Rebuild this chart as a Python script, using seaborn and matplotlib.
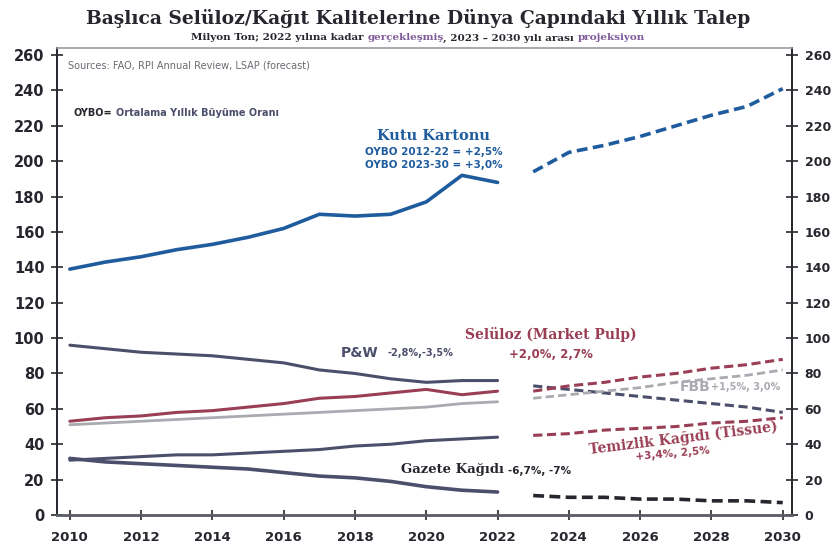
import matplotlib
matplotlib.use("Agg")
import matplotlib.pyplot as plt
import seaborn as sns
import pandas as pd

# ---------------- data ----------------
hist_years = [2010, 2011, 2012, 2013, 2014, 2015, 2016, 2017, 2018, 2019, 2020, 2021, 2022]
proj_years = [2023, 2024, 2025, 2026, 2027, 2028, 2029, 2030]

kutu_hist = [139, 143, 146, 150, 153, 157, 162, 170, 169, 170, 177, 192, 188]
kutu_proj = [194, 205, 209, 214, 220, 226, 231, 241]

pw_hist = [96, 94, 92, 91, 90, 88, 86, 82, 80, 77, 75, 76, 76]
pw_proj = [73, 71, 69, 67, 65, 63, 61, 58]

pulp_hist = [53, 55, 56, 58, 59, 61, 63, 66, 67, 69, 71, 68, 70]
pulp_proj = [70, 73, 75, 78, 80, 83, 85, 88]

fbb_hist = [51, 52, 53, 54, 55, 56, 57, 58, 59, 60, 61, 63, 64]
fbb_proj = [66, 68, 70, 72, 75, 77, 79, 82]

tissue_hist = [31, 32, 33, 34, 34, 35, 36, 37, 39, 40, 42, 43, 44]
tissue_proj = [45, 46, 48, 49, 50, 52, 53, 55]

gazete_hist = [32, 30, 29, 28, 27, 26, 24, 22, 21, 19, 16, 14, 13]
gazete_proj = [11, 10, 10, 9, 9, 8, 8, 7]

x_ticks = [2010, 2012, 2014, 2016, 2018, 2020, 2022, 2024, 2026, 2028, 2030]
y_ticks = [0, 20, 40, 60, 80, 100, 120, 140, 160, 180, 200, 220, 240, 260]

BLUE = "#1f5c9e"
SLATE = "#4c4f6b"
MAROON = "#9a3e55"
LGREY = "#a9abb1"
DARK = "#26262e"

sns.set_theme(style="white")
plt.rcParams["font.family"] = ["DejaVu Sans"]

fig = plt.figure(figsize=(8.36, 5.47), dpi=100)
ax = fig.add_axes([57 / 836, 1 - 515 / 547, (792 - 57) / 836, (515 - 48) / 547])

series = [
    (kutu_hist, kutu_proj, BLUE, BLUE, 2.6),
    (pw_hist, pw_proj, SLATE, SLATE, 2.2),
    (fbb_hist, fbb_proj, LGREY, LGREY, 2.0),
    (pulp_hist, pulp_proj, MAROON, MAROON, 2.2),
    (tissue_hist, tissue_proj, SLATE, MAROON, 2.2),
    (gazete_hist, gazete_proj, SLATE, DARK, 2.6),
]
for h, p, ch, cp, lw in series:
    sns.lineplot(x=hist_years, y=h, color=ch, lw=lw, ax=ax)
    sns.lineplot(x=proj_years, y=p, color=cp, lw=lw, ax=ax, linestyle=(0, (3, 1.5)))

ax.set_xlim(2009.64, 2030.26)
ax.set_ylim(0, 264)
ax.set_xticks(x_ticks)
ax.set_xticklabels([str(t) for t in x_ticks], fontsize=9.5, fontweight="bold", color=DARK)
ax.set_yticks(y_ticks)
ax.set_yticklabels([str(t) for t in y_ticks], fontsize=10.5, fontweight="bold", color=DARK)
ax.tick_params(axis="y", which="both", direction="inout", length=8, width=1.2,
               left=True, right=True, labelleft=True, labelright=True, colors=DARK, pad=5)
ax.tick_params(axis="x", direction="inout", length=7, width=1.2, bottom=True, colors=DARK, pad=8)
for tick in ax.yaxis.get_major_ticks():
    tick.label2.set_fontsize(9)
    tick.label2.set_fontweight("bold")
    tick.label2.set_color(DARK)
for t in ax.get_yticklabels() + ax.get_xticklabels():
    t.set_color(DARK)
ax.spines["left"].set_color(DARK)
ax.spines["left"].set_linewidth(1.4)
ax.spines["right"].set_color(DARK)
ax.spines["right"].set_linewidth(1.4)
ax.spines["bottom"].set_color("#5a5c66")
ax.spines["bottom"].set_linewidth(2.0)
ax.spines["top"].set_color("#9a9aa0")
ax.spines["top"].set_linewidth(1.2)
ax.set_xlabel("")
ax.set_ylabel("")
ax.grid(False)

# ---------------- title ----------------
fig.text(0.5, 1 - 18 / 547, "Başlıca Selüloz/Kağıt Kalitelerine Dünya Çapındaki Yıllık Talep",
         ha="center", va="center", fontsize=13.5, fontweight="bold", color=DARK,
         family="DejaVu Serif")

# subtitle in pieces
parts = [("Milyon Ton; 2022 yılına kadar ", DARK), ("gerçekleşmiş", "#7e5a9a"),
         (", 2023 – 2030 yılı arası ", DARK), ("projeksiyon", "#7e5a9a")]
fig.canvas.draw()
renderer = fig.canvas.get_renderer()
widths = []
for s, c in parts:
    t = fig.text(0, 0, s, fontsize=7.5, fontweight="bold", family="DejaVu Serif")
    widths.append(t.get_window_extent(renderer).width)
    t.remove()
total = sum(widths)
x0 = (836 / 2 - total / 2)
for (s, c), w in zip(parts, widths):
    fig.text(x0 / 836, 1 - 38 / 547, s, fontsize=7.5, fontweight="bold", color=c,
             family="DejaVu Serif", ha="left", va="center")
    x0 += w

# ---------------- annotations ----------------
ax.text(2009.95, 254, "Sources: FAO, RPI Annual Review, LSAP (forecast)", fontsize=7,
        color="#6a6a72", ha="left", va="center")
ax.text(2010.1, 227, "OYBO=", fontsize=7, fontweight="bold", color=DARK, ha="left", va="center")
ax.text(2011.3, 227, "Ortalama Yıllık Büyüme Oranı", fontsize=7, fontweight="bold",
        color=SLATE, ha="left", va="center")

ax.text(2020.2, 214.5, "Kutu Kartonu", fontsize=10.5, fontweight="bold", color=BLUE,
        ha="center", va="center", family="DejaVu Serif")
ax.text(2020.2, 205, "OYBO 2012-22 = +2,5%", fontsize=7.5, fontweight="bold", color=BLUE,
        ha="center", va="center")
ax.text(2020.2, 198, "OYBO 2023-30 = +3,0%", fontsize=7.5, fontweight="bold", color=BLUE,
        ha="center", va="center")

ax.text(2017.6, 91.5, "P&W", fontsize=10, fontweight="bold", color=SLATE, ha="left", va="center")
ax.text(2018.9, 91.5, "-2,8%,-3,5%", fontsize=7, fontweight="bold", color=SLATE, ha="left", va="center")

ax.text(2023.5, 102, "Selüloz (Market Pulp)", fontsize=10, fontweight="bold", color=MAROON,
        ha="center", va="center", family="DejaVu Serif")
ax.text(2023.5, 91, "+2,0%, 2,7%", fontsize=8.5, fontweight="bold", color=MAROON,
        ha="center", va="center")

ax.text(2027.1, 72.5, "FBB", fontsize=10, fontweight="bold", color=LGREY, ha="left", va="center")
ax.text(2028.0, 72.5, "+1,5%, 3,0%", fontsize=7, fontweight="bold", color=LGREY, ha="left", va="center")

ax.text(2027.2, 43.5, "Temizlik Kağıdı (Tissue)", fontsize=10, fontweight="bold", color=MAROON,
        ha="center", va="center", rotation=7, family="DejaVu Serif")
ax.text(2026.9, 34.5, "+3,4%, 2,5%", fontsize=7.5, fontweight="bold", color=MAROON,
        ha="center", va="center", rotation=5)

ax.text(2019.3, 25.5, "Gazete Kağıdı", fontsize=9.5, fontweight="bold", color=DARK,
        ha="left", va="center", family="DejaVu Serif")
ax.text(2022.3, 25.0, "-6,7%, -7%", fontsize=7.5, fontweight="bold", color=DARK,
        ha="left", va="center")

fig.savefig("out.png", dpi=100)
